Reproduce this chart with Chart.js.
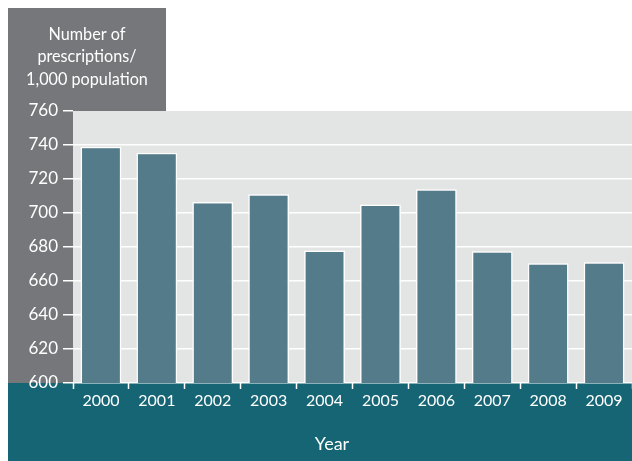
<!DOCTYPE html>
<html>
<head>
<meta charset="utf-8">
<script src="https://cdn.jsdelivr.net/npm/chart.js@4.4.1/dist/chart.umd.min.js"></script>
<style>
  html, body { margin: 0; padding: 0; background: #fff; }
  #wrap { width: 632px; height: 461px; position: relative; }
</style>
</head>
<body>
<div id="wrap"><canvas id="chart"></canvas></div>
<script>
// --- Data ---
const years = ["2000", "2001", "2002", "2003", "2004", "2005", "2006", "2007", "2008", "2009"];
const prescriptions = [739, 735.5, 706.5, 711, 678, 705, 714, 677.5, 670.5, 671];
const yMin = 600;
const yMax = 760;
const yStep = 20;
const yTitleLines = ["Number of", "prescriptions/", "1,000 population"];
const xTitle = "Year";

// --- Colours ---
const darkGrey = "#76777b";
const plotGrey = "#e3e5e4";
const teal = "#156574";
const barFill = "#537b8a";
const FONT = "Lato, 'Open Sans', sans-serif";

// Panels behind the chart + the boxed axis titles
const panels = {
  id: "panels",
  beforeDraw(chart) {
    const { ctx, chartArea: a } = chart;
    ctx.save();
    // title box + y-axis column
    ctx.fillStyle = darkGrey;
    ctx.fillRect(8, 8, 158, a.top - 8);
    ctx.fillRect(8, a.top - 1, a.left - 8, a.bottom - a.top + 1);
    // plot area
    ctx.fillStyle = plotGrey;
    ctx.fillRect(a.left, a.top, a.right - a.left, a.bottom - a.top);
    // x-axis band
    ctx.fillStyle = teal;
    ctx.fillRect(8, a.bottom, chart.width - 8, chart.height - a.bottom);
    ctx.restore();
  },
  afterDraw(chart) {
    const { ctx } = chart;
    ctx.save();
    ctx.fillStyle = "#fff";
    ctx.textAlign = "center";
    ctx.textBaseline = "alphabetic";
    ctx.font = "18px " + FONT;
    yTitleLines.forEach((line, i) => {
      ctx.save();
      ctx.translate(87, 39.5 + i * 22.5);
      ctx.scale(0.9, 1);
      ctx.fillText(line, 0, 0);
      ctx.restore();
    });
    ctx.font = "18px " + FONT;
    ctx.fillText(xTitle, 332, 450);
    ctx.restore();
  },
};

new Chart(document.getElementById("chart").getContext("2d"), {
  type: "bar",
  data: {
    labels: years,
    datasets: [{
      data: prescriptions,
      backgroundColor: barFill,
      borderColor: "#fff",
      borderWidth: 1.5,
      barPercentage: 0.73,
      categoryPercentage: 1,
    }],
  },
  options: {
    responsive: true,
    maintainAspectRatio: false,
    animation: false,
    layout: { padding: { top: 111, left: 0, right: 0, bottom: 0 } },
    plugins: {
      legend: { display: false },
      tooltip: { enabled: false },
    },
    scales: {
      x: {
        afterFit: (s) => { s.height = 78; },
        border: { display: false },
        grid: {
          drawOnChartArea: false,
          drawTicks: true,
          tickLength: 6,
          tickColor: "#fff",
          tickWidth: 1.5,
        },
        ticks: {
          color: "#fff",
          padding: 2,
          font: { family: FONT, size: 16 },
        },
      },
      y: {
        min: yMin,
        max: yMax,
        afterFit: (s) => { s.width = 73; },
        border: { display: false },
        grid: {
          color: (c) => (c.tick && c.tick.value === yMax ? "rgba(0,0,0,0)" : "#fff"),
          lineWidth: 1.5,
          tickLength: 10,
          tickColor: "#fff",
          tickWidth: 1.5,
        },
        ticks: {
          stepSize: yStep,
          color: "#fff",
          padding: 5,
          font: { family: FONT, size: 17 },
        },
      },
    },
  },
  plugins: [panels],
});
</script>
</body>
</html>
